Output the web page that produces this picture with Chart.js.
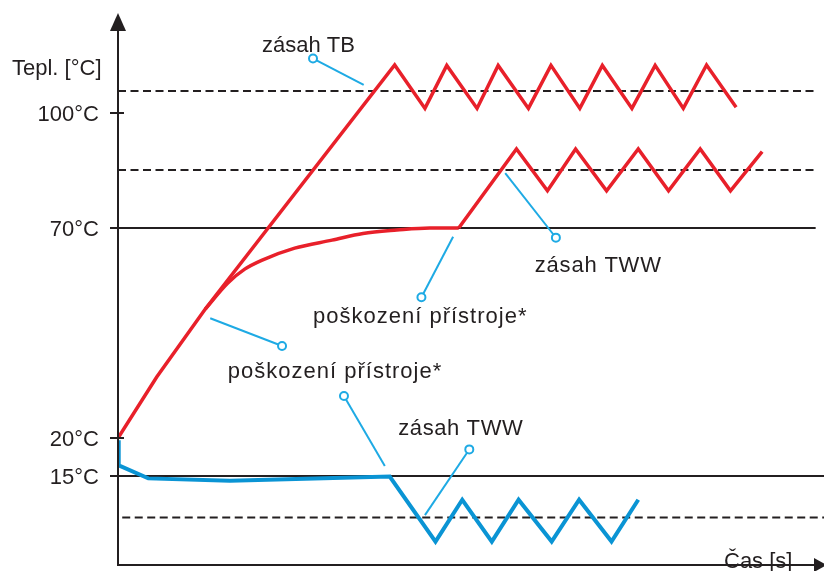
<!DOCTYPE html>
<html><head><meta charset="utf-8">
<script src="https://cdn.jsdelivr.net/npm/chart.js@4.4.1/dist/chart.umd.min.js"></script>
<style>html,body{margin:0;padding:0;background:#fff;}canvas{display:block;}</style>
</head><body>
<canvas id="c" width="824" height="571"></canvas>
<script>
// ---- data (time in arbitrary units 0..100, temperature in °C) ----
const tbX = [0, 5.5, 12.4, 39.3, 43.6, 46.7, 51.0, 54.0, 58.3, 61.5, 65.6, 68.8, 73.0, 76.3, 80.3, 83.6, 87.8];
const tbY = [20, 34.5, 50.7, 112.5, 101.2, 112.4, 101.2, 112.4, 101.2, 112.4, 101.2, 112.4, 101.2, 112.4, 101.2, 112.5, 101.5];

const twwCurveX = [12.4, 15.6, 18.0, 20.4, 25.1, 30.4, 34.8, 39.6, 44.3, 48.4];
const twwCurveY = [50.7, 56.9, 60.2, 62.3, 65.2, 67.1, 68.7, 69.5, 70.0, 70.0];

const twwZigX = [48.4, 56.6, 61.0, 65.0, 69.4, 73.9, 78.2, 82.7, 87.0, 91.5];
const twwZigY = [70, 90.6, 79.7, 90.6, 79.7, 90.6, 79.7, 90.6, 79.7, 89.9];

const coldX = [0, 0.1, 4.3, 15.9, 38.6, 45.1, 48.9, 53.1, 56.9, 61.6, 65.5, 70.1, 73.9];
const coldY = [19.7, 16.4, 14.6, 14.2, 14.9, 3.95, 11, 3.95, 11, 3.95, 11, 3.95, 11];

// reference levels
const solidLevels = [70, 15];
const solidFromX = [-1.1, -0.6];
const solidToX = [99.1, 100.4];
const dashedLevels = [105.7, 85.1, 8];
const dashedFromX = [0, 0, 0.6];
const dashedToX = [99.0, 99.0, 100.4];

// axis ticks
const tickValues = [100, 70, 20, 15];
const tickLabels = ['100°C', '70°C', '20°C', '15°C'];
const yTitle = 'Tepl. [°C]';
const xTitle = 'Čas [s]';

// annotations
const noteTexts = ['zásah TB', 'zásah TWW', 'poškození přístroje*', 'poškození přístroje*', 'zásah TWW'];
const noteX = [20.45, 59.2, 27.7, 15.6, 39.8];
const noteY = [115.9, 59.5, 47.4, 34.3, 20.7];
const noteSpacing = ['0px', '0.8px', '1px', '1px', '0.6px'];
const leaderFromX = [27.7, 62.2, 43.1, 23.3, 32.1, 49.9];
const leaderFromY = [114.2, 67.7, 53.5, 41.9, 30.0, 18.5];
const leaderToX = [34.9, 55.0, 47.6, 13.1, 37.9, 43.6];
const leaderToY = [107.3, 84.3, 67.9, 48.5, 16.3, 8.4];

// ---- broken (piecewise linear) temperature scale ----
const yKnots = [0, 15, 20, 70, 100, 125];
const yKnotFrac = [0, 0.1624, 0.2318, 0.6150, 0.8248, 1];
function valToDec(v) {
  for (let i = 1; i < yKnots.length; i++) {
    if (v <= yKnots[i] || i === yKnots.length - 1) {
      const a = yKnots[i - 1], b = yKnots[i];
      return yKnotFrac[i - 1] + (v - a) / (b - a) * (yKnotFrac[i] - yKnotFrac[i - 1]);
    }
  }
}
function decToVal(d) {
  for (let i = 1; i < yKnotFrac.length; i++) {
    if (d <= yKnotFrac[i] || i === yKnotFrac.length - 1) {
      const a = yKnotFrac[i - 1], b = yKnotFrac[i];
      return yKnots[i - 1] + (d - a) / (b - a) * (yKnots[i] - yKnots[i - 1]);
    }
  }
}
class BrokenScale extends Chart.LinearScale {
  getPixelForValue(v) {
    if (v === null || v === undefined || isNaN(v)) return NaN;
    return this.getPixelForDecimal(valToDec(v));
  }
  getValueForPixel(p) { return decToVal(this.getDecimalForPixel(p)); }
}
BrokenScale.id = 'broken';
BrokenScale.defaults = Chart.LinearScale.defaults;
Chart.register(BrokenScale);

const zip = (xs, ys) => xs.map((x, i) => ({x, y: ys[i]}));

const RED = '#e8202a';
const BLUE = '#0a94d4';
const LEAD = '#1eaae4';
const INK = '#231f20';
const FONT = '"Liberation Sans", Arial, sans-serif';

const datasets = [];
solidLevels.forEach((lv, i) => datasets.push({
  data: [{x: solidFromX[i], y: lv}, {x: solidToX[i], y: lv}],
  borderColor: INK, borderWidth: 2, pointRadius: 0, clip: false, order: 5
}));
dashedLevels.forEach((lv, i) => datasets.push({
  data: [{x: dashedFromX[i], y: lv}, {x: dashedToX[i], y: lv}],
  borderColor: INK, borderWidth: 2, borderDash: [8, 4.5], pointRadius: 0, clip: false, order: 5
}));
datasets.push({data: zip(tbX, tbY), borderColor: RED, borderWidth: 3.5, pointRadius: 0, tension: 0, borderJoinStyle: 'miter', order: 1});
datasets.push({data: zip(twwCurveX, twwCurveY), borderColor: RED, borderWidth: 3.5, pointRadius: 0, cubicInterpolationMode: 'monotone', order: 1});
datasets.push({data: zip(twwZigX, twwZigY), borderColor: RED, borderWidth: 3.5, pointRadius: 0, tension: 0, borderJoinStyle: 'miter', order: 1});
datasets.push({data: zip(coldX, coldY), borderColor: BLUE, borderWidth: 4, pointRadius: 0, tension: 0, borderJoinStyle: 'miter', order: 1});

const decor = {
  id: 'decor',
  afterDatasetsDraw(chart) {
    const {ctx, chartArea: a, scales: {x, y}} = chart;
    ctx.save();
    // axes
    ctx.strokeStyle = INK; ctx.fillStyle = INK; ctx.lineWidth = 2;
    ctx.beginPath();
    ctx.moveTo(a.left, a.bottom); ctx.lineTo(a.left, a.top + 10);
    ctx.moveTo(a.left - 1, a.bottom); ctx.lineTo(a.right - 6, a.bottom);
    ctx.stroke();
    ctx.beginPath();
    ctx.moveTo(a.left, a.top - 4); ctx.lineTo(a.left - 8, a.top + 14); ctx.lineTo(a.left + 8, a.top + 14); ctx.closePath();
    ctx.fill();
    ctx.beginPath();
    ctx.moveTo(a.right + 5, a.bottom); ctx.lineTo(a.right - 8, a.bottom - 7); ctx.lineTo(a.right - 8, a.bottom + 7); ctx.closePath();
    ctx.fill();
    // ticks and labels
    ctx.font = '22px ' + FONT;
    ctx.textAlign = 'right'; ctx.textBaseline = 'alphabetic';
    tickValues.forEach((v, i) => {
      const py = y.getPixelForValue(v);
      ctx.beginPath(); ctx.moveTo(a.left - 8, py); ctx.lineTo(a.left + 6, py); ctx.stroke();
      ctx.fillText(tickLabels[i], a.left - 19, py + 8);
    });
    ctx.textAlign = 'left';
    ctx.fillText(yTitle, 12, 75);
    ctx.fillText(xTitle, 724, 568);
    // leader lines
    ctx.strokeStyle = LEAD; ctx.lineWidth = 2;
    leaderFromX.forEach((fx, i) => {
      const x1 = x.getPixelForValue(fx), y1 = y.getPixelForValue(leaderFromY[i]);
      const x2 = x.getPixelForValue(leaderToX[i]), y2 = y.getPixelForValue(leaderToY[i]);
      const d = Math.hypot(x2 - x1, y2 - y1);
      ctx.beginPath();
      ctx.moveTo(x1 + (x2 - x1) / d * 4, y1 + (y2 - y1) / d * 4);
      ctx.lineTo(x2, y2); ctx.stroke();
      ctx.beginPath(); ctx.arc(x1, y1, 4, 0, Math.PI * 2);
      ctx.fillStyle = '#fff'; ctx.fill(); ctx.stroke();
    });
    // notes
    ctx.fillStyle = INK;
    noteTexts.forEach((t, i) => {
      ctx.letterSpacing = noteSpacing[i];
      ctx.fillText(t, x.getPixelForValue(noteX[i]), y.getPixelForValue(noteY[i]));
    });
    ctx.letterSpacing = '0px';
    ctx.restore();
  }
};

new Chart(document.getElementById('c'), {
  type: 'line',
  data: {datasets},
  options: {
    responsive: false, animation: false, events: [],
    layout: {padding: {left: 118, right: 2, top: 17, bottom: 6}},
    plugins: {legend: {display: false}, tooltip: {enabled: false}},
    scales: {
      x: {type: 'linear', min: 0, max: 100, display: false},
      y: {type: 'broken', min: 0, max: 125, display: false}
    }
  },
  plugins: [decor]
});
</script>
</body></html>
